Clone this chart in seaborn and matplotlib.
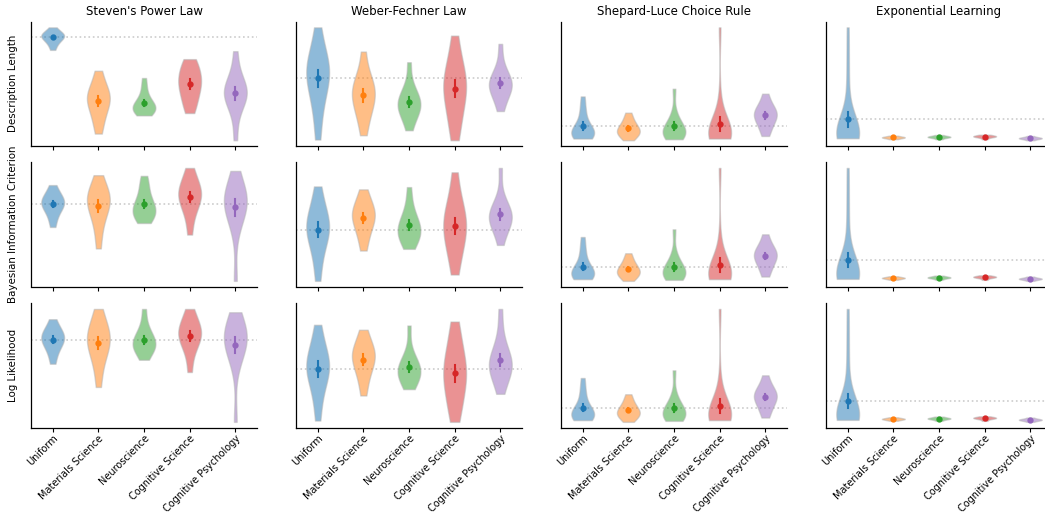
import matplotlib
matplotlib.use("Agg")
import matplotlib.pyplot as plt
import numpy as np
import pandas as pd
import seaborn as sns

fields = ["Uniform", "Materials Science", "Neuroscience",
          "Cognitive Science", "Cognitive Psychology"]
models = ["Steven's Power Law", "Weber-Fechner Law",
          "Shepard-Luce Choice Rule", "Exponential Learning"]
metrics = ["Description Length", "Bayesian Information Criterion", "Log Likelihood"]

# Normalised scores of the fitted law, one list of datasets per field
# (Uniform, Materials Science, Neuroscience, Cognitive Science, Cognitive Psychology).
stevens_dl = [
    [96, 101, 104, 106, 108, 109, 110, 111, 112, 113, 115, 118.7],
    [11.7, 22, 30, 36, 41, 45, 48, 50, 53, 57, 65, 75],
    [30, 33, 35, 36, 37, 38, 40, 42, 45, 50, 58, 67.7],
    [32.4, 40, 46, 52, 57, 61, 64, 68, 72, 77, 82, 86.7],
    [5, 30, 42, 47, 50, 52, 54, 56, 59, 64, 75, 94.7],
]
stevens_bic = [
    [59.4, 68, 74, 78, 81, 83, 84, 86, 88, 91, 95, 101.7],
    [37.7, 55, 66, 74, 79, 83, 86, 89, 92, 96, 102, 111.7],
    [63.4, 68, 71, 73, 75, 78, 81, 84, 88, 96, 103, 111],
    [51.7, 68, 77, 83, 87, 90, 93, 96, 99, 104, 110, 119],
    [5, 55, 70, 74, 79, 83, 86, 89, 92, 96, 104, 116],
]
stevens_ll = [
    [63.7, 73, 79, 83, 86, 88, 90, 92, 94, 97, 101, 108.4],
    [40.4, 58, 69, 76, 81, 85, 89, 92, 96, 101, 108, 118.7],
    [67.7, 74, 78, 80, 82, 84, 86, 89, 92, 96, 104, 118.7],
    [55.4, 72, 81, 86, 89, 92, 95, 98, 101, 105, 111, 118.7],
    [5.4, 62, 74, 81, 83, 87, 90, 93, 96, 100, 107, 115.4],
]
weber_dl = [
    [6.4, 30, 45, 56, 64, 69, 74, 78, 84, 88, 100, 119],
    [10.7, 25, 34, 40, 45, 50, 54, 57, 61, 66, 74, 94.7],
    [15.7, 26, 32, 36, 39, 41, 43, 46, 50, 54, 62, 84],
    [5.7, 20, 32, 42, 50, 56, 61, 66, 72, 80, 92, 110.7],
    [35, 45, 51, 56, 59, 61, 63, 65, 68, 72, 82, 102.4],
]
weber_bic = [
    [5, 25, 38, 47, 53, 57, 60, 64, 69, 76, 86, 100.7],
    [35.7, 47, 55, 61, 65, 69, 72, 75, 78, 82, 89, 97.7],
    [37.4, 44, 48, 51, 54, 57, 60, 63, 67, 73, 83, 100],
    [11.4, 27, 38, 46, 53, 58, 63, 69, 74, 82, 94, 115],
    [41.4, 54, 60, 64, 67, 69, 71, 74, 77, 80, 90, 119.4],
]
weber_ll = [
    [6.7, 27, 40, 49, 55, 59, 62, 66, 71, 78, 88, 103.4],
    [32, 45, 54, 60, 65, 69, 72, 75, 78, 82, 89, 98.4],
    [38.4, 44, 48, 51, 54, 57, 60, 61, 64, 68, 78, 102.7],
    [5.4, 18, 29, 38, 46, 52, 57, 63, 70, 79, 92, 106.7],
    [33.7, 46, 53, 57, 60, 63, 66, 69, 73, 80, 94, 119.4],
]
shepard_scores = [
    [7.4, 9, 11, 12, 13, 14, 15, 17, 22, 30, 38, 49.7],
    [5.7, 9, 11, 13, 14, 15, 17, 19, 21, 24, 28, 33.4],
    [6.7, 9, 11, 12, 13, 14, 16, 18, 21, 25, 33, 57.4],
    [7.4, 8, 9, 9.5, 10, 11, 12, 13, 14, 15, 16, 18, 20, 22, 45, 119],
    [10, 16, 21, 25, 28, 30, 32, 34, 36, 39, 44, 52.4],
]
exponential_scores = [
    [7.4, 8, 8.5, 9, 9.5, 10, 10.5, 11, 12, 13, 14, 16, 19, 24, 35, 60, 88, 119],
    [6.5, 7.5, 8, 8.3, 8.6, 9, 10],
    [6.4, 8, 8.5, 8.8, 9, 9.5, 10.7],
    [6.4, 8.5, 9, 9.3, 9.6, 10, 11],
    [5.4, 6.8, 7.2, 7.5, 7.8, 8.2, 9.7],
]

panels = {
    ("Steven's Power Law", "Description Length"): stevens_dl,
    ("Steven's Power Law", "Bayesian Information Criterion"): stevens_bic,
    ("Steven's Power Law", "Log Likelihood"): stevens_ll,
    ("Weber-Fechner Law", "Description Length"): weber_dl,
    ("Weber-Fechner Law", "Bayesian Information Criterion"): weber_bic,
    ("Weber-Fechner Law", "Log Likelihood"): weber_ll,
}
for metric in metrics:
    panels[("Shepard-Luce Choice Rule", metric)] = shepard_scores
    panels[("Exponential Learning", metric)] = exponential_scores

rows = []
for (model, metric), groups in panels.items():
    for field, values in zip(fields, groups):
        for v in values:
            rows.append({"model": model, "metric": metric, "field": field, "value": v})
df = pd.DataFrame(rows)

palette = dict(zip(fields, sns.color_palette("tab10", len(fields))))

plt.rcParams["font.family"] = ["DejaVu Sans"]
plt.rcParams["xtick.major.size"] = 3
plt.rcParams["axes.linewidth"] = 0.9
fig = plt.figure(figsize=(10.45, 5.16), dpi=100)
W, H = 1045, 516
col_left = [31, 296, 561, 826]
row_top = [21.7, 162.3, 303.3]
ax_w, ax_h = 226, 124.2

for i, metric in enumerate(metrics):
    for j, model in enumerate(models):
        ax = fig.add_axes([col_left[j] / W, 1 - (row_top[i] + ax_h) / H,
                           ax_w / W, ax_h / H])
        sub = df[(df["model"] == model) & (df["metric"] == metric)]
        sns.violinplot(data=sub, x="field", y="value", hue="field",
                       order=fields, hue_order=fields, palette=palette,
                       cut=0, inner=None, density_norm="width", width=0.5,
                       linecolor="#b3b3b3", linewidth=1, saturation=1,
                       alpha=0.5, legend=False, ax=ax)
        sns.pointplot(data=sub, x="field", y="value", hue="field",
                      order=fields, hue_order=fields, palette=palette,
                      errorbar="se", linestyle="none", markers="o",
                      markersize=2.5, err_kws={"linewidth": 1.5},
                      legend=False, ax=ax)
        ref = sub.loc[sub["field"] == "Uniform", "value"].mean()
        ax.axhline(ref, color="#cccccc", linestyle=":", linewidth=1.2, zorder=0)
        ax.set_xlim(-0.475, 4.475)
        ax.set_yticks([])
        ax.set_xlabel("")
        ax.set_ylabel(metric if j == 0 else "", fontsize=7.4, labelpad=9)
        ax.set_xticks(range(len(fields)))
        ax.tick_params(axis="x", pad=1)
        if i == len(metrics) - 1:
            ax.set_xticklabels(fields, rotation=45, ha="right",
                               rotation_mode="anchor", fontsize=7.0)
        else:
            ax.set_xticklabels([])
        if i == 0:
            ax.set_title(model, fontsize=8.5, pad=5)
        sns.despine(ax=ax)

fig.savefig("out.png", dpi=100)
